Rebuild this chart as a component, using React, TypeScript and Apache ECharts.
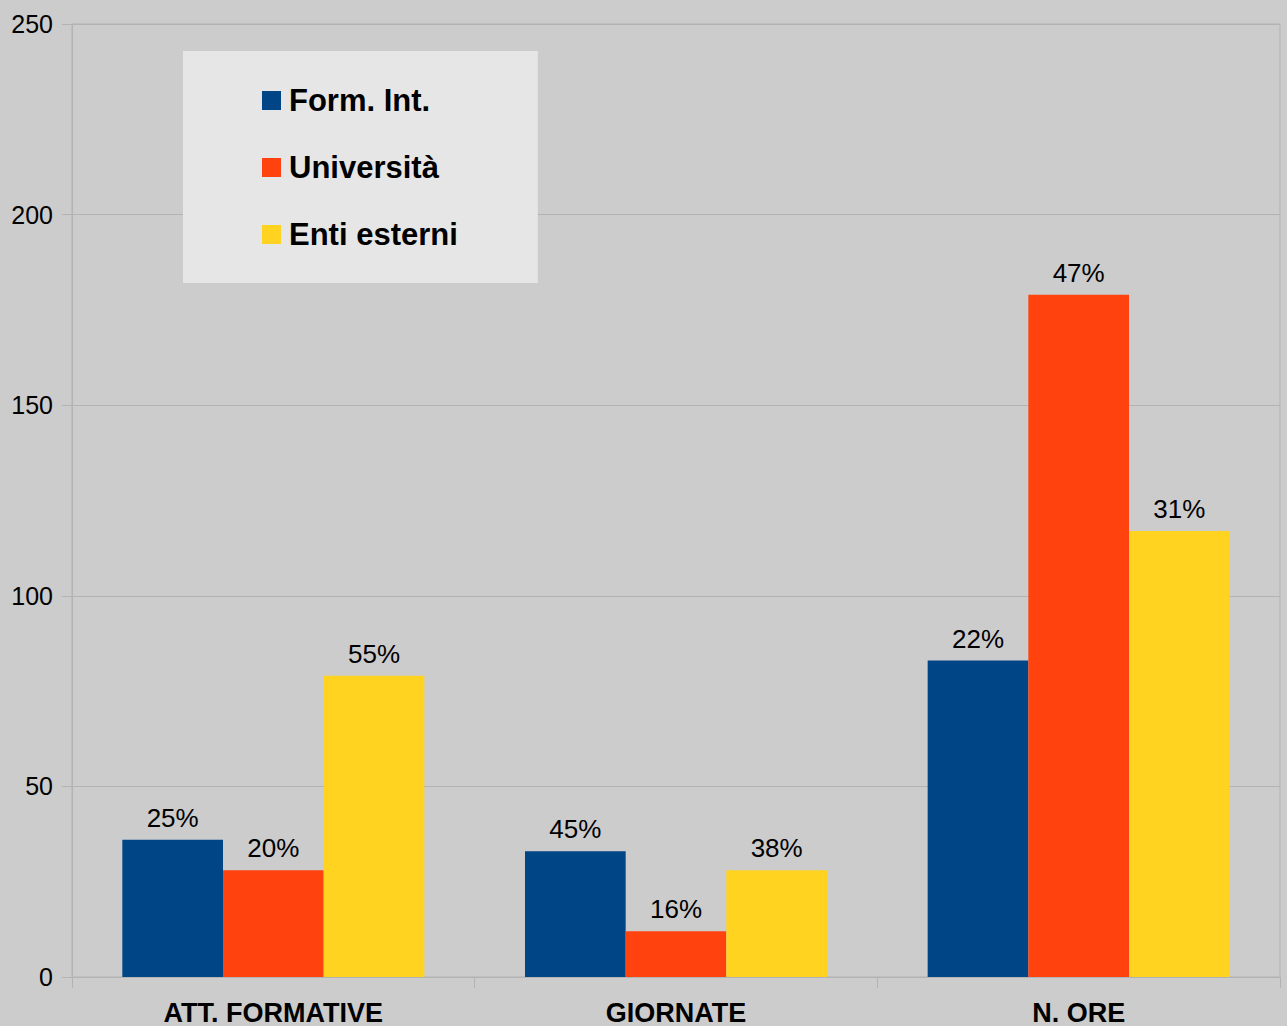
import React, { useEffect, useRef } from "react";
import * as echarts from "echarts";

const categories = ["ATT. FORMATIVE", "GIORNATE", "N. ORE"];
const seriesNames = ["Form. Int.", "Università", "Enti esterni"];
const formIntValues = [36, 33, 83];
const universitaValues = [28, 12, 179];
const entiValues = [79, 28, 117];
const formIntLabels = ["25%", "45%", "22%"];
const universitaLabels = ["20%", "16%", "47%"];
const entiLabels = ["55%", "38%", "31%"];
const colors = ["#004586", "#ff420e", "#ffd320"];

const FONT = "'Liberation Sans', Arial, sans-serif";

export default function App() {
  const ref = useRef<HTMLDivElement>(null);
  useEffect(() => {
    if (!ref.current) return;
    const chart = echarts.init(ref.current, undefined, { renderer: "svg" });
    const values = [formIntValues, universitaValues, entiValues];
    const labels = [formIntLabels, universitaLabels, entiLabels];
    chart.setOption({
      animation: false,
      backgroundColor: "#cccccc",
      textStyle: { fontFamily: FONT },
      grid: {
        left: 72,
        top: 24,
        right: 7,
        bottom: 49,
        show: true,
        borderColor: "#b3b3b3",
        borderWidth: 1,
        backgroundColor: "transparent",
      },
      legend: {
        orient: "vertical",
        left: 183,
        top: 51,
        padding: [34, 80, 33, 79],
        backgroundColor: "#e6e6e6",
        itemWidth: 19,
        itemHeight: 19,
        itemGap: 36,
        icon: "rect",
        textStyle: {
          fontFamily: FONT,
          fontSize: 31,
          fontWeight: "bold",
          color: "#000000",
          lineHeight: 31,
          padding: [0, 0, 0, 3],
        },
        data: seriesNames,
      },
      xAxis: {
        type: "category",
        data: categories,
        axisLine: { show: true, lineStyle: { color: "#b3b3b3", width: 1 } },
        axisTick: {
          show: true,
          length: 11,
          alignWithLabel: false,
          lineStyle: { color: "#b3b3b3" },
        },
        axisLabel: {
          fontFamily: FONT,
          fontSize: 27,
          fontWeight: "bold",
          color: "#000000",
          margin: 22,
        },
      },
      yAxis: {
        type: "value",
        min: 0,
        max: 250,
        interval: 50,
        axisLine: { show: true, lineStyle: { color: "#b3b3b3", width: 1 } },
        axisTick: { show: true, length: 10, lineStyle: { color: "#b3b3b3" } },
        splitLine: { show: true, lineStyle: { color: "#b3b3b3", width: 1 } },
        axisLabel: {
          fontFamily: FONT,
          fontSize: 25,
          color: "#000000",
          margin: 19,
        },
      },
      series: seriesNames.map((name, i) => ({
        name,
        type: "bar",
        data: values[i],
        barGap: "0%",
        barCategoryGap: "25%",
        itemStyle: { color: colors[i] },
        label: {
          show: true,
          position: "top",
          distance: 9,
          fontFamily: FONT,
          fontSize: 26,
          color: "#000000",
          formatter: (p: any) => labels[i][p.dataIndex],
        },
      })),
    });
    return () => chart.dispose();
  }, []);
  return (
    <div
      ref={ref}
      style={{ position: "absolute", left: 0, top: 0, width: 1287, height: 1026 }}
    />
  );
}
